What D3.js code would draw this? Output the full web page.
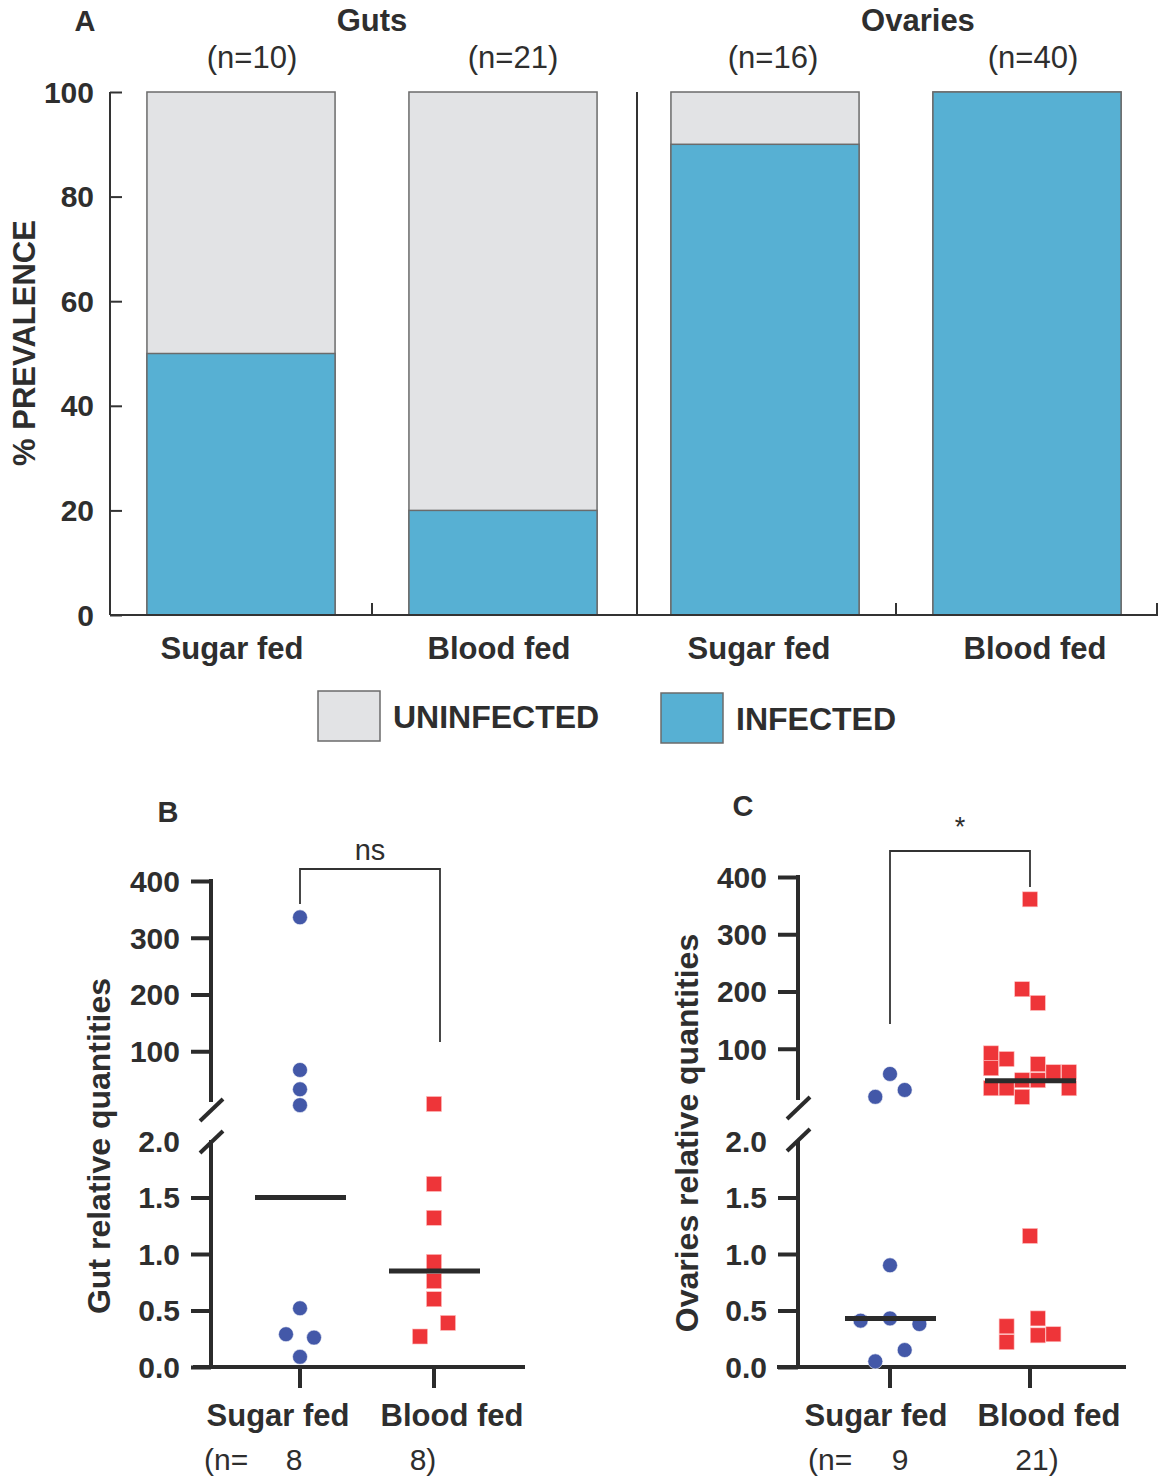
<!DOCTYPE html>
<html><head><meta charset="utf-8">
<script src="https://cdn.jsdelivr.net/npm/d3@7"></script>
<style>
body{margin:0;background:#fff;}
svg{display:block;}
text{font-family:"Liberation Sans",Arial,sans-serif;fill:#2e2e2e;}
</style></head>
<body><svg id="chart" width="1161" height="1480"></svg>
<script>
// ---------- DATA ----------
// Panel A: prevalence (%)
const prevCategories = ["Guts Sugar fed","Guts Blood fed","Ovaries Sugar fed","Ovaries Blood fed"];
const prevLabels = ["Sugar fed","Blood fed","Sugar fed","Blood fed"];
const prevN = ["(n=10)","(n=21)","(n=16)","(n=40)"];
const prevInfected = [50, 20, 90, 100];
const prevTicks = [0, 20, 40, 60, 80, 100];
const tissueTitles = ["Guts","Ovaries"];

// Panel B: gut relative quantities
const gutSugar = [336, 67, 33, 5, 0.52, 0.29, 0.26, 0.09];
const gutSugarSlot = [0, 0, 0, 0, 0, -1, 1, 0];
const gutBlood = [7, 1.62, 1.32, 0.93, 0.76, 0.60, 0.39, 0.27];
const gutBloodSlot = [0, 0, 0, 0, 0, 0, 1, -1];
const gutMedians = [1.5, 0.85];
const gutN = ["8", "8)"];

// Panel C: ovaries relative quantities
const ovSugar = [56, 28, 16, 0.90, 0.41, 0.43, 0.38, 0.15, 0.05];
const ovSugarSlot = [0, 1, -1, 0, -2, 0, 2, 1, -1];
const ovBlood = [361, 204, 180, 92, 66, 82, 73, 59, 59, 31, 31, 45, 45, 16, 31, 1.16, 0.36, 0.22, 0.43, 0.28, 0.29];
const ovBloodSlot = [0, -0.5, 0.5, -2.5, -2.5, -1.5, 0.5, 1.5, 2.5, -2.5, -1.5, -0.5, 0.5, -0.5, 2.5, 0, -1.5, -1.5, 0.5, 0.5, 1.5];
const ovMedians = [0.43, 44];
const ovN = ["9", "21)"];

const groups = ["Sugar fed", "Blood fed"];
const upperTicks = [100, 200, 300, 400];
const lowerTicks = [0.0, 0.5, 1.0, 1.5, 2.0];

// ---------- DRAW ----------
const svg = d3.select("#chart");
const ink = "#2b2b2b";
const cInf = "#57b0d3", cUninf = "#e2e3e5", cBlue = "#4358a8", cRed = "#ee3539";

// ---- Panel A ----
const ax = d3.scaleBand().domain(prevCategories).range([110, 1158]).paddingInner(0.282).paddingOuter(0.141);
const ay = d3.scaleLinear().domain([0, 100]).range([615, 92]);
const gA = svg.append("g");

gA.selectAll("rect.un").data(prevCategories).join("rect")
  .attr("x", d => ax(d)).attr("width", ax.bandwidth())
  .attr("y", ay(100)).attr("height", ay(0) - ay(100))
  .attr("fill", cUninf).attr("stroke", "#6b6b6b").attr("stroke-width", 1.5);
gA.selectAll("rect.inf").data(prevCategories).join("rect")
  .attr("x", d => ax(d)).attr("width", ax.bandwidth())
  .attr("y", (d, i) => ay(prevInfected[i])).attr("height", (d, i) => ay(0) - ay(prevInfected[i]))
  .attr("fill", cInf).attr("stroke", "#6b6b6b").attr("stroke-width", 1.5);

const yAxisA = d3.axisRight(ay).tickValues(prevTicks).tickSize(12).tickFormat("");
gA.append("g").attr("transform", "translate(110,0)").call(yAxisA)
  .call(g => g.select(".domain").remove())
  .call(g => g.selectAll("line").attr("stroke", "#333").attr("stroke-width", 2));
gA.append("line").attr("x1", 110).attr("x2", 110).attr("y1", ay(100)).attr("y2", ay(0)).attr("stroke", "#333").attr("stroke-width", 2);
gA.selectAll("text.yt").data(prevTicks).join("text")
  .attr("x", 94).attr("y", d => ay(d)).attr("dy", "0.35em").attr("text-anchor", "end")
  .attr("font-size", 30).attr("font-weight", "bold").text(d => d);
// x axis
gA.append("line").attr("x1", 110).attr("x2", 1158).attr("y1", ay(0)).attr("y2", ay(0)).attr("stroke", "#333").attr("stroke-width", 2);
// separator & small ticks
const sepX = (ax(prevCategories[1]) + ax.bandwidth() + ax(prevCategories[2])) / 2 + 3;
gA.append("line").attr("x1", sepX).attr("x2", sepX).attr("y1", ay(100)).attr("y2", ay(0)).attr("stroke", "#333").attr("stroke-width", 2);
const midTicks = [
  (ax(prevCategories[0]) + ax.bandwidth() + ax(prevCategories[1])) / 2,
  (ax(prevCategories[2]) + ax.bandwidth() + ax(prevCategories[3])) / 2,
  1157
];
gA.selectAll("line.mt").data(midTicks).join("line")
  .attr("x1", d => d).attr("x2", d => d).attr("y1", ay(0)).attr("y2", ay(0) - 12)
  .attr("stroke", "#333").attr("stroke-width", 2);
// labels
gA.selectAll("text.xl").data(prevCategories).join("text")
  .attr("x", (d, i) => ax(d) + ax.bandwidth() / 2 + [-9, -4, -6, 8][i]).attr("y", 659)
  .attr("text-anchor", "middle").attr("font-size", 31).attr("font-weight", "bold")
  .text((d, i) => prevLabels[i]);
gA.selectAll("text.nl").data(prevCategories).join("text")
  .attr("x", (d, i) => ax(d) + ax.bandwidth() / 2 + [11, 10, 8, 6][i]).attr("y", 68)
  .attr("text-anchor", "middle").attr("font-size", 31).text((d, i) => prevN[i]);
gA.selectAll("text.tt").data(tissueTitles).join("text")
  .attr("x", (d, i) => [372, 918][i]).attr("y", 31)
  .attr("text-anchor", "middle").attr("font-size", 31).attr("font-weight", "bold").text(d => d);
gA.append("text").attr("x", 85).attr("y", 31).attr("text-anchor", "middle").attr("font-size", 29).attr("font-weight", "bold").text("A");
gA.append("text").attr("transform", "translate(35,343) rotate(-90)").attr("text-anchor", "middle")
  .attr("font-size", 31).attr("font-weight", "bold").text("% PREVALENCE");
// legend
const legend = [["UNINFECTED", cUninf, 318, 691], ["INFECTED", cInf, 661, 693]];
legend.forEach(([t, c, x, y]) => {
  gA.append("rect").attr("x", x).attr("y", y).attr("width", 62).attr("height", 50)
    .attr("fill", c).attr("stroke", "#6b6b6b").attr("stroke-width", 1.5);
  gA.append("text").attr("x", x + 75).attr("y", y + 37).attr("font-size", 32).attr("font-weight", "bold").text(t);
});

// ---- Panels B & C ----
function scatterPanel(cfg) {
  const g = svg.append("g");
  const x = d3.scalePoint().domain(groups).range([cfg.xs, cfg.xb]);
  const yU = d3.scaleLinear().domain([0, 400]).range([cfg.zeroU, cfg.top]);
  const yL = d3.scaleLinear().domain([0, 2]).range([1367, 1141]);
  const yv = v => v > 2 ? yU(v) : yL(v);
  const ax0 = cfg.axisX;

  // upper axis
  g.append("g").attr("transform", `translate(${ax0},0)`)
    .call(d3.axisLeft(yU).tickValues(upperTicks).tickSize(20).tickFormat(""))
    .call(s => s.select(".domain").remove())
    .call(s => s.selectAll("line").attr("stroke", ink).attr("stroke-width", 4));
  g.append("line").attr("x1", ax0).attr("x2", ax0).attr("y1", yU(400) - 2).attr("y2", cfg.zeroU - 6)
    .attr("stroke", ink).attr("stroke-width", 4);
  // lower axis
  g.append("g").attr("transform", `translate(${ax0},0)`)
    .call(d3.axisLeft(yL).tickValues(lowerTicks.slice(0, 4)).tickSize(20).tickFormat(""))
    .call(s => s.select(".domain").remove())
    .call(s => s.selectAll("line").attr("stroke", ink).attr("stroke-width", 4));
  g.append("line").attr("x1", ax0).attr("x2", ax0).attr("y1", yL(2) - 1).attr("y2", yL(0) + 2)
    .attr("stroke", ink).attr("stroke-width", 4);
  // break slashes
  [cfg.zeroU + 2, cfg.zeroU + 34].forEach(yc => {
    g.append("line").attr("x1", ax0 - 11).attr("x2", ax0 + 12).attr("y1", yc + 11).attr("y2", yc - 11)
      .attr("stroke", ink).attr("stroke-width", 4);
  });
  // tick labels
  g.selectAll("text.tu").data(upperTicks).join("text")
    .attr("x", ax0 - 31).attr("y", d => yU(d)).attr("dy", "0.36em").attr("text-anchor", "end")
    .attr("font-size", 30).attr("font-weight", "bold").text(d => d);
  g.selectAll("text.tl").data(lowerTicks).join("text")
    .attr("x", ax0 - 31).attr("y", d => yL(d)).attr("dy", "0.36em").attr("text-anchor", "end")
    .attr("font-size", 30).attr("font-weight", "bold").text(d => d.toFixed(1));
  // x axis
  g.append("line").attr("x1", cfg.x0).attr("x2", cfg.x1).attr("y1", 1367).attr("y2", 1367).attr("stroke", ink).attr("stroke-width", 4);
  g.selectAll("line.xt").data(groups).join("line")
    .attr("x1", d => x(d)).attr("x2", d => x(d)).attr("y1", 1367).attr("y2", 1388)
    .attr("stroke", ink).attr("stroke-width", 4);
  // points
  g.selectAll("circle").data(cfg.sugar).join("circle")
    .attr("cx", (d, i) => x("Sugar fed") + cfg.sugarSlot[i] * cfg.unitS).attr("cy", d => yv(d))
    .attr("r", 7.5).attr("fill", cBlue).attr("stroke", "#fff").attr("stroke-width", 0.6);
  const sq = 15;
  g.selectAll("rect").data(cfg.blood).join("rect")
    .attr("x", (d, i) => x("Blood fed") + cfg.bloodSlot[i] * cfg.unitB - sq / 2).attr("y", d => yv(d) - sq / 2)
    .attr("width", sq).attr("height", sq).attr("fill", cRed).attr("stroke", "#fbb").attr("stroke-width", 0.6);
  // medians
  g.selectAll("line.med").data(groups).join("line")
    .attr("x1", d => x(d) - 45).attr("x2", d => x(d) + 46)
    .attr("y1", (d, i) => yv(cfg.medians[i])).attr("y2", (d, i) => yv(cfg.medians[i]))
    .attr("stroke", ink).attr("stroke-width", 5);
  // bracket
  const b = cfg.bracket;
  g.append("path").attr("d", `M${b.x1},${b.y1}V${b.top}H${b.x2}V${b.y2}`)
    .attr("fill", "none").attr("stroke", "#333").attr("stroke-width", 1.8);
  g.append("text").attr("x", (b.x1 + b.x2) / 2).attr("y", b.labelY).attr("text-anchor", "middle")
    .attr("font-size", b.labelSize).text(b.label);
  // labels
  g.selectAll("text.xl").data(groups).join("text")
    .attr("x", (d, i) => x(d) + cfg.labelDx[i]).attr("y", 1426).attr("text-anchor", "middle")
    .attr("font-size", 31).attr("font-weight", "bold").text(d => d);
  g.append("text").attr("x", cfg.nStart).attr("y", 1470).attr("font-size", 30).text("(n=");
  g.selectAll("text.nn").data(cfg.n).join("text")
    .attr("x", (d, i) => x(groups[i]) + cfg.nDx[i]).attr("y", 1470).attr("text-anchor", "middle")
    .attr("font-size", 30).text(d => d);
  g.append("text").attr("x", cfg.letterX).attr("y", cfg.letterY).attr("text-anchor", "middle")
    .attr("font-size", 29).attr("font-weight", "bold").text(cfg.letter);
  g.append("text").attr("transform", `translate(${cfg.ylabX},${cfg.ylabY}) rotate(-90)`).attr("text-anchor", "middle")
    .attr("font-size", 32).attr("font-weight", "bold").text(cfg.ylab);
}

scatterPanel({
  xs: 300, xb: 434, x0: 193, x1: 525, axisX: 211, top: 881, zeroU: 1108,
  sugar: gutSugar, sugarSlot: gutSugarSlot, blood: gutBlood, bloodSlot: gutBloodSlot,
  unitS: 14, unitB: 14, medians: gutMedians,
  bracket: { x1: 300, y1: 904, top: 869, x2: 440, y2: 1042, label: "ns", labelY: 860, labelSize: 29 },
  labelDx: [-22, 18], n: gutN, nDx: [-6, -11], nStart: 204,
  letter: "B", letterX: 168, letterY: 822, ylab: "Gut relative quantities", ylabX: 110, ylabY: 1146
});
scatterPanel({
  xs: 890, xb: 1030, x0: 777, x1: 1126, axisX: 798, top: 877, zeroU: 1106,
  sugar: ovSugar, sugarSlot: ovSugarSlot, blood: ovBlood, bloodSlot: ovBloodSlot,
  unitS: 14.7, unitB: 15.6, medians: ovMedians,
  bracket: { x1: 890, y1: 1024, top: 851, x2: 1030, y2: 887, label: "*", labelY: 836, labelSize: 27 },
  labelDx: [-14, 19], n: ovN, nDx: [10, 7], nStart: 808,
  letter: "C", letterX: 743, letterY: 816, ylab: "Ovaries relative quantities", ylabX: 698, ylabY: 1133
});
</script></body></html>
